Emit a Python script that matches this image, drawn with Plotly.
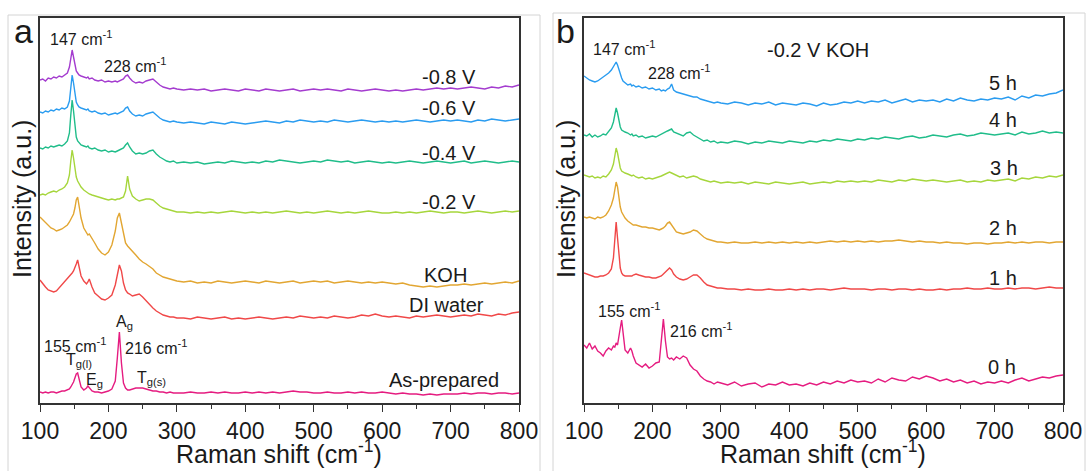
import plotly.graph_objects as go

# Raman shift sample positions (cm-1)
raman_shift = [100,104,108,112,116,120,124,128,132,136,140,
               143,145,147,149,151,153,155,157,160,
               164,168,170,172,176,180,
               185,190,195,200,205,210,
               213,216,219,222,225,228,231,235,
               240,245,250,255,260,265,270,275,280,285,290,295,300,
               310,320,330,340,350,360,370,380,390,400,
               410,420,430,440,450,460,470,480,490,500,
               510,520,530,540,550,560,570,580,590,600,
               610,620,630,640,650,660,670,680,690,700,
               710,720,730,740,750,760,770,780,790,800]

# ---- Panel a (stacked intensities, a.u.) ----
a_m08 = [323,324,322,325,324,326,325,327,326,328,330,
         336,345,353,346,337,332,330,328,327,
         326,325,326,324,325,323,
         322,323,321,322,321,322,
         321,322,323,324,327,328,325,322,
         320,321,320,322,323,324,321,318,316,315,314,315,314,
         313,314,313,314,312,313,314,313,312,314,
         313,312,314,313,312,313,314,312,313,314,
         313,314,313,312,314,313,312,313,314,313,
         312,313,312,313,314,313,314,315,314,315,
         314,315,316,315,314,316,315,317,316,318]
a_m06 = [291,290,292,291,293,292,294,293,295,294,296,
         302,315,328,320,308,301,298,296,295,
         294,293,294,292,291,292,
         290,289,290,288,289,290,
         289,290,291,292,295,296,292,289,
         287,288,287,289,290,291,288,285,283,282,281,282,281,
         280,281,280,279,281,280,279,281,280,279,
         280,281,282,281,280,282,281,283,282,281,
         282,281,283,282,281,282,283,282,281,282,
         281,282,281,282,283,282,281,282,283,282,
         283,282,281,283,282,284,283,282,283,284]
a_m04 = [255,254,256,255,257,256,257,258,257,259,262,
         270,288,303,292,276,266,262,260,258,
         257,256,257,255,254,255,
         253,252,253,251,252,251,
         252,253,254,255,258,260,256,252,
         249,250,249,250,252,253,249,246,244,242,241,242,240,
         241,240,241,239,240,241,240,242,241,240,
         241,240,242,241,243,242,241,240,241,242,
         241,243,242,241,242,240,241,242,241,240,
         241,240,241,242,241,240,241,242,241,240,
         241,242,240,241,242,241,240,241,242,241]
a_m02 = [208,209,208,210,211,212,211,213,214,216,220,
         228,242,253,245,232,226,222,219,216,
         213,211,210,209,208,207,
         206,205,204,203,204,203,
         204,204,205,206,212,227,214,207,
         204,202,203,204,204,203,200,197,195,194,193,192,191,
         191,190,191,190,191,190,191,192,191,190,
         191,190,191,190,191,192,191,190,191,190,
         191,192,191,190,191,190,191,192,191,190,
         190,191,190,191,190,191,192,191,190,191,
         191,190,191,192,191,190,191,192,191,192]
a_koh = [186,183,180,178,175,174,172,173,174,176,178,
         181,184,186,189,195,203,206,198,185,
         175,170,168,169,165,160,
         154,150,148,151,158,172,
         185,190,180,168,160,157,155,152,
         148,144,141,139,136,134,130,128,126,125,124,123,122,
         121,122,120,121,120,122,121,120,121,122,
         121,120,122,121,120,121,122,120,121,122,
         121,122,120,121,122,121,120,121,120,121,
         120,119,120,118,117,116,117,116,117,118,
         118,119,118,119,120,119,120,121,120,122]
a_water = [123,119,116,113,112,111,112,115,118,121,124,
           126,128,130,132,135,139,143,135,127,
           122,119,121,124,116,110,
           107,104,103,105,108,118,
           128,138,132,120,113,110,109,107,
           108,109,106,102,98,95,92,90,88,87,86,86,85,
           85,84,86,85,84,85,86,84,85,84,
           85,86,85,84,85,86,85,87,86,85,
           86,85,87,86,85,86,88,87,89,87,
           86,87,86,85,87,86,87,88,87,86,
           87,88,87,89,88,87,89,88,90,91]
a_asprep = [11,10,11,10,11,11,10,11,12,12,13,
            14,16,18,21,25,29,30,24,16,
            13,15,17,15,12,11,
            11,10,11,12,14,22,
            45,71,40,20,15,13,13,14,
            15,15,15,14,13,12,12,11,11,10,11,10,10,
            10,11,10,10,11,10,11,10,10,11,
            10,11,10,11,10,11,12,11,11,10,
            10,11,10,10,11,10,11,10,10,11,
            10,9,10,9,9,8,9,8,9,9,
            9,10,9,10,10,9,10,10,9,10]

# ---- Panel b (stacked intensities, a.u.) ----
b_5h = [327,325,323,322,321,322,324,326,328,330,333,
        336,339,341,338,333,328,325,322,320,
        318,319,317,318,316,317,
        315,316,314,315,313,314,
        312,313,312,314,315,319,313,311,
        310,309,308,307,306,306,304,303,302,301,300,301,300,
        299,301,300,298,300,299,301,298,300,299,
        298,300,299,297,300,298,299,301,300,302,
        300,302,301,303,300,302,304,301,303,302,
        303,301,304,302,305,303,302,304,303,305,
        304,306,303,307,305,308,307,309,310,313]
b_4h = [268,267,269,266,268,266,267,269,268,271,275,
        281,289,295,290,282,276,273,272,271,
        270,268,269,267,268,266,
        267,265,266,267,266,268,
        269,270,271,272,273,274,271,270,
        268,267,270,271,268,266,264,262,263,261,262,260,261,
        260,262,261,259,261,260,262,261,260,262,
        261,260,262,261,263,262,264,263,262,264,
        263,265,264,266,265,264,266,267,265,266,
        268,267,266,268,269,267,268,270,269,268,
        269,270,268,271,269,270,272,270,271,270]
b_3h = [228,227,226,227,225,226,225,227,226,229,233,
        239,248,255,250,241,235,232,231,230,
        229,228,227,228,226,225,
        226,224,225,224,225,226,
        227,228,229,230,231,230,229,228,
        226,227,225,226,227,226,224,223,222,221,222,221,220,
        221,220,221,219,221,220,219,221,220,219,
        220,221,219,220,221,220,222,221,222,221,
        222,221,223,222,221,223,222,224,223,222,
        223,222,221,222,223,221,222,221,223,222,
        223,224,222,225,224,226,225,227,226,228]
b_2h = [186,185,186,185,184,186,185,186,188,192,198,
        205,214,221,216,205,196,191,188,185,
        182,180,179,178,178,177,
        176,176,175,175,174,173,
        174,175,177,180,181,178,174,171,
        170,169,170,171,173,172,169,166,164,163,162,161,161,
        160,161,160,160,161,160,161,160,161,160,
        161,160,161,160,161,162,161,162,161,162,
        161,162,161,162,162,163,162,161,162,161,
        161,160,161,160,160,159,160,160,159,160,
        160,161,160,161,160,161,161,160,161,161]
b_1h = [130,129,128,127,126,126,127,127,128,130,134,
        145,165,181,165,145,135,130,128,127,
        127,127,127,128,129,128,
        127,126,126,125,125,126,
        127,129,131,134,135,133,129,126,
        124,123,124,126,128,128,125,121,118,117,116,115,115,
        114,114,113,114,113,113,114,113,113,114,
        113,114,113,114,114,113,114,115,114,114,
        114,113,114,114,113,114,114,113,114,113,
        113,114,113,114,114,115,114,114,115,114,
        114,115,114,115,115,114,115,116,115,115]
b_0h = [58,55,60,54,57,52,50,47,52,55,53,
        57,56,60,58,65,75,83,70,53,
        50,55,52,47,40,38,
        36,39,35,37,40,41,
        60,84,62,46,44,45,43,46,
        44,47,45,38,34,32,27,24,22,21,19,21,20,
        18,21,17,19,20,16,19,18,21,18,
        19,17,20,18,21,19,22,20,23,21,
        22,20,24,21,25,23,22,26,24,27,
        25,22,24,21,23,20,22,19,21,20,
        22,20,23,25,22,24,26,25,27,28]

panel_a = [("-0.8 V", a_m08, "#a43ccf"), ("-0.6 V", a_m06, "#2a9cf0"),
           ("-0.4 V", a_m04, "#20bd8a"), ("-0.2 V", a_m02, "#a6d63c"),
           ("KOH", a_koh, "#e2a632"), ("DI water", a_water, "#f04848"),
           ("As-prepared", a_asprep, "#e51c80")]
panel_b = [("5 h", b_5h, "#2a9cf0"), ("4 h", b_4h, "#20bd8a"),
           ("3 h", b_3h, "#a6d63c"), ("2 h", b_2h, "#e2a632"),
           ("1 h", b_1h, "#f04848"), ("0 h", b_0h, "#e51c80")]

for name, ys, c in panel_a + panel_b:
    assert len(ys) == len(raman_shift), (name, len(ys))

W, H = 1086, 471
FONT = "Liberation Sans, Arial, sans-serif"


def px(x):
    return x / W


def py(y):
    return 1 - y / H


fig = go.Figure()
for name, ys, c in panel_a:
    fig.add_trace(go.Scatter(x=raman_shift, y=ys, mode="lines", name=name,
                             line=dict(color=c, width=1.4), xaxis="x", yaxis="y"))
for name, ys, c in panel_b:
    fig.add_trace(go.Scatter(x=raman_shift, y=ys, mode="lines", name=name,
                             line=dict(color=c, width=1.4), xaxis="x2", yaxis="y2"))

xticks = [100, 200, 300, 400, 500, 600, 700, 800]
xminor = [150, 250, 350, 450, 550, 650, 750]
axcol = "#333333"


def xaxis(dom, anchor):
    return dict(domain=dom, anchor=anchor, range=[100, 800], tickvals=xticks,
                ticks="outside", ticklen=7, tickwidth=1.4, tickcolor=axcol,
                showline=True, linecolor=axcol, linewidth=1.5, mirror=True,
                minor=dict(tickvals=xminor, ticks="outside", ticklen=4,
                           tickwidth=1.2, tickcolor=axcol),
                tickfont=dict(size=23, color="#1a1a1a", family=FONT),
                showgrid=False, zeroline=False, automargin=False)


def yaxis(dom, anchor):
    return dict(domain=dom, anchor=anchor, range=[0, 385], showticklabels=False,
                ticks="", showline=True, linecolor=axcol, linewidth=1.5,
                mirror=True, showgrid=False, zeroline=False, automargin=False)


annots = []


def note(text, x, y, size=16, xanchor="left", angle=0):
    annots.append(dict(text=text, x=px(x), y=py(y), xref="paper", yref="paper",
                       xanchor=xanchor, yanchor="middle", showarrow=False,
                       textangle=angle,
                       font=dict(size=size, color="#1a1a1a", family=FONT)))


# panel labels and axis titles
note("a", 23, 31, size=34, xanchor="center")
note("b", 565, 31, size=34, xanchor="center")
note("Raman shift (cm<sup>-1</sup>)", 279, 452, size=25, xanchor="center")
note("Raman shift (cm<sup>-1</sup>)", 823, 452, size=25, xanchor="center")
note("Intensity (a.u.)", 22, 199, size=25, xanchor="center", angle=-90)
note("Intensity (a.u.)", 566, 199, size=25, xanchor="center", angle=-90)

# panel a
note("147 cm<sup>-1</sup>", 48, 38)
note("228 cm<sup>-1</sup>", 102, 65)
note("-0.8 V", 478, 77, size=20, xanchor="right")
note("-0.6 V", 478, 108, size=20, xanchor="right")
note("-0.4 V", 478, 153, size=20, xanchor="right")
note("-0.2 V", 478, 202, size=20, xanchor="right")
note("KOH", 469, 275, size=20, xanchor="right")
note("DI water", 486, 305, size=20, xanchor="right")
note("As-prepared", 501, 380, size=20, xanchor="right")
note("155 cm<sup>-1</sup>", 42, 345)
note("T<sub>g(l)</sub>", 64, 360)
note("E<sub>g</sub>", 84, 380)
note("A<sub>g</sub>", 114, 322)
note("216 cm<sup>-1</sup>", 123, 347)
note("T<sub>g(s)</sub>", 135, 378)

# panel b
note("147 cm<sup>-1</sup>", 591, 48)
note("228 cm<sup>-1</sup>", 646, 72)
note("-0.2 V KOH", 765, 50, size=20)
note("5 h", 987, 83, size=20)
note("4 h", 987, 120, size=20)
note("3 h", 988, 168, size=20)
note("2 h", 987, 228, size=20)
note("1 h", 987, 278, size=20)
note("0 h", 986, 367, size=20)
note("155 cm<sup>-1</sup>", 596, 310)
note("216 cm<sup>-1</sup>", 668, 330)

shapes = [
    dict(type="rect", xref="paper", yref="paper", x0=px(8), x1=px(540),
         y0=py(480), y1=py(15), line=dict(color="#d4d4d4", width=1), layer="below"),
    dict(type="rect", xref="paper", yref="paper", x0=px(553), x1=px(1085),
         y0=py(480), y1=py(13), line=dict(color="#d4d4d4", width=1), layer="below"),
]

fig.update_layout(
    width=W, height=H, margin=dict(l=0, r=0, t=0, b=0, autoexpand=False),
    paper_bgcolor="white", plot_bgcolor="white", showlegend=False,
    font=dict(family=FONT, color="#1a1a1a"),
    xaxis=xaxis([px(40), px(519)], "y"),
    yaxis=yaxis([py(403), py(18)], "x"),
    xaxis2=xaxis([px(584), px(1063)], "y2"),
    yaxis2=yaxis([py(403), py(18)], "x2"),
    annotations=annots, shapes=shapes,
)

fig.write_html("out.html")
